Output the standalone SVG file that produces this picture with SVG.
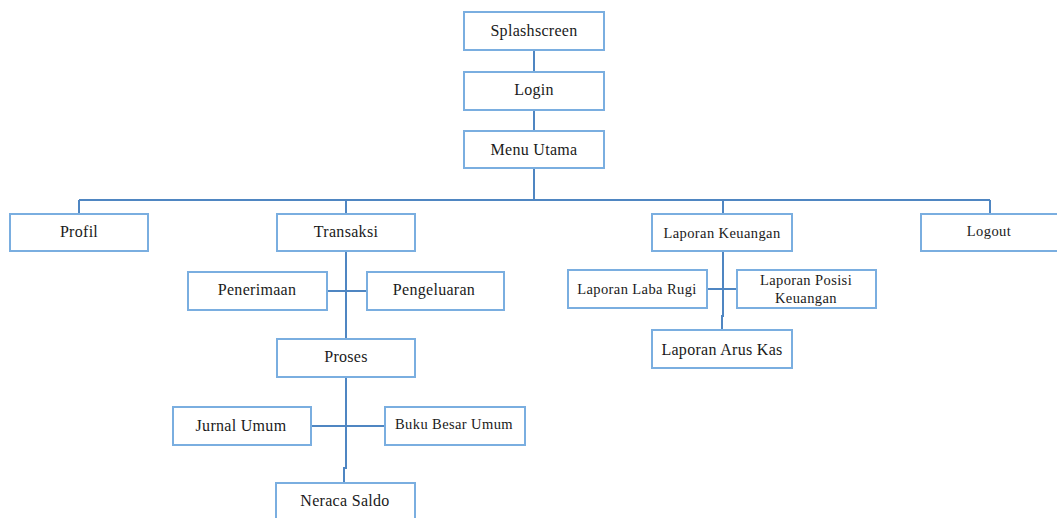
<svg xmlns="http://www.w3.org/2000/svg" width="1057" height="518" viewBox="0 0 1057 518">
<style>
.b{fill:#fff;stroke:#7aaee0;stroke-width:2}
.t{font-family:"Liberation Serif",serif;font-size:16px;letter-spacing:0.3px;fill:#1a1a1a;text-anchor:middle}
.s{font-size:14.5px;letter-spacing:0.4px}
.c{fill:none;stroke:#4f86c2;stroke-width:2}
</style>
<rect width="1057" height="518" fill="#fff"/>
<g id="connectors">
<path class="c" d="M534 50V72M534 110V131M534 168V200M79 200H990M79 200V214M346 200V214M723 200V214M990 200V214"/>
<path class="c" d="M346 251V339M327 291H367M346 377V468H344V483M311 426H385"/>
<path class="c" d="M723 251V316H722V330M707 289H737"/>
</g>
<g id="splashscreen"><rect class="b" x="464" y="12" width="140" height="38"/><text class="t" x="534" y="36">Splashscreen</text></g>
<g id="login"><rect class="b" x="464" y="72" width="140" height="38"/><text class="t" x="534" y="95">Login</text></g>
<g id="menu-utama"><rect class="b" x="464" y="131" width="140" height="37"/><text class="t" x="534" y="155">Menu Utama</text></g>
<g id="profil"><rect class="b" x="10" y="214" width="138" height="37"/><text class="t" x="79" y="237">Profil</text></g>
<g id="transaksi"><rect class="b" x="277" y="214" width="138" height="37"/><text class="t" x="346" y="237">Transaksi</text></g>
<g id="laporan-keuangan"><rect class="b" x="652" y="214" width="140" height="37"/><text class="t s" x="722" y="238">Laporan Keuangan</text></g>
<g id="logout"><rect class="b" x="921" y="214" width="140" height="37"/><text class="t s" x="989" y="236">Logout</text></g>
<g id="penerimaan"><rect class="b" x="188" y="272" width="139" height="38"/><text class="t" x="257" y="295">Penerimaan</text></g>
<g id="pengeluaran"><rect class="b" x="367" y="272" width="137" height="38"/><text class="t" x="434" y="295">Pengeluaran</text></g>
<g id="proses"><rect class="b" x="277" y="339" width="138" height="38"/><text class="t" x="346" y="362">Proses</text></g>
<g id="jurnal-umum"><rect class="b" x="173" y="407" width="138" height="38"/><text class="t" x="241" y="431">Jurnal Umum</text></g>
<g id="buku-besar-umum"><rect class="b" x="385" y="407" width="140" height="38"/><text class="t s" x="454" y="429">Buku Besar Umum</text></g>
<g id="neraca-saldo"><rect class="b" x="276" y="483" width="139" height="40"/><text class="t" x="345" y="506">Neraca Saldo</text></g>
<g id="laporan-laba-rugi"><rect class="b" x="568" y="270" width="139" height="38"/><text class="t s" x="637" y="294">Laporan Laba Rugi</text></g>
<g id="laporan-posisi-keuangan"><rect class="b" x="737" y="270" width="139" height="38"/><text class="t s" x="806" y="285">Laporan Posisi</text><text class="t s" x="806" y="303">Keuangan</text></g>
<g id="laporan-arus-kas"><rect class="b" x="652" y="330" width="140" height="38"/><text class="t" x="722" y="355">Laporan Arus Kas</text></g>
</svg>
